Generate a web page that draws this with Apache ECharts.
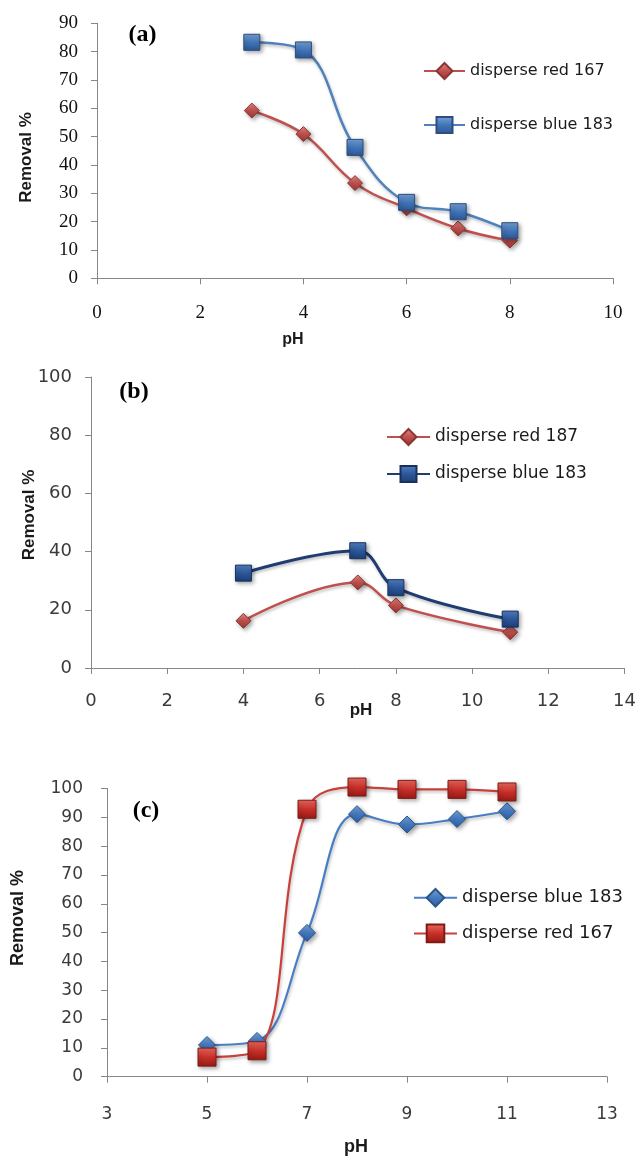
<!DOCTYPE html>
<html><head><meta charset="utf-8">
<script src="https://cdn.jsdelivr.net/npm/echarts/dist/echarts.min.js"></script>
<style>html,body{margin:0;padding:0;background:#fff}#c{width:639px;height:1169px}</style>
</head><body><div id="c"></div>
<script>
// ---- data ----
const pHA = [3, 4, 5, 6, 7, 8];
const red167A = [59.2, 50.9, 33.6, 24.7, 17.6, 13.3];
const blue183A = [83.3, 80.6, 46.2, 26.8, 23.5, 16.8];

const pHB = [4, 7, 8, 11];
const red187B = [16.2, 29.4, 21.5, 12.3];
const blue183B = [32.6, 40.3, 27.6, 16.8];

const pHC = [5, 6, 7, 8, 9, 10, 11];
const blue183C = [11.0, 12.4, 49.9, 91.1, 87.5, 89.4, 92.1];
const red167C = [6.8, 9.0, 92.8, 100.5, 99.7, 99.7, 98.8];

const xTicksC = [3, 5, 7, 9, 11, 13];

const seriesNamesA = ['disperse red 167', 'disperse blue 183'];
const seriesNamesB = ['disperse red 187', 'disperse blue 183'];
const seriesNamesC = ['disperse blue 183', 'disperse red 167'];
const panelLabels = ['(a)', '(b)', '(c)'];
const yTitle = 'Removal %';
const xTitle = 'pH';

// ---- helpers ----
const pairs = (xs, ys) => xs.map((x, i) => [x, ys[i]]);
const grad = (c0, c1, c2) => ({type: 'linear', x: 0, y: 0, x2: 0, y2: 1,
  colorStops: [{offset: 0, color: c0}, {offset: 0.5, color: c1}, {offset: 1, color: c2}]});
const axisLineStyle = {lineStyle: {color: '#878787', width: 1}};
const tickStyle = {show: true, length: 6, lineStyle: {color: '#878787', width: 1}};

function mkSeries(name, idx, data, symbol, size, lineColor, lineW, fill, border) {
  return {
    name: name, type: 'line', xAxisIndex: idx, yAxisIndex: idx, data: data,
    smooth: 0.4, clip: false, symbol: symbol, symbolSize: size,
    lineStyle: {color: lineColor, width: lineW, shadowBlur: 3, shadowColor: 'rgba(0,0,0,0.25)', shadowOffsetX: 1, shadowOffsetY: 2},
    itemStyle: {color: fill, borderColor: border, borderWidth: 1, shadowBlur: 4, shadowColor: 'rgba(0,0,0,0.35)', shadowOffsetX: 2, shadowOffsetY: 2},
    emphasis: {disabled: true}, animation: false
  };
}

const redDia = grad('#E58B87', '#C0504D', '#963633');
const blueSqA = grad('#79A3D8', '#4175B7', '#2B5797');
const blueSqB = grad('#5682C4', '#2C579B', '#1D3E75');
const redSqC = grad('#EE6A60', '#C8302A', '#971A14');
const blueDiaC = grad('#77A4DC', '#4479C0', '#2C5C9E');

const chart = echarts.init(document.getElementById('c'), null, {renderer: 'canvas'});

const option = {
  backgroundColor: '#ffffff',
  animation: false,
  grid: [
    {left: 97, top: 23.3, width: 516, height: 255},
    {left: 91, top: 377, width: 539, height: 291},
    {left: 107, top: 788.5, width: 500, height: 288.2}
  ],
  xAxis: [
    {gridIndex: 0, type: 'value', min: 0, max: 10, interval: 2, splitLine: {show: false},
      axisLine: axisLineStyle, axisTick: tickStyle,
      axisLabel: {margin: 25, fontFamily: 'Liberation Serif', fontSize: 19, color: '#111'}},
    {gridIndex: 1, type: 'value', min: 0, max: 14, interval: 2, splitLine: {show: false},
      axisLine: axisLineStyle, axisTick: tickStyle,
      axisLabel: {margin: 24, fontFamily: 'DejaVu Sans', fontSize: 18, color: '#3a3a3a'}},
    {gridIndex: 2, type: 'value', min: 3, max: 13, splitLine: {show: false},
      axisLine: axisLineStyle,
      axisTick: Object.assign({}, tickStyle, {customValues: xTicksC}),
      axisLabel: {margin: 29, fontFamily: 'DejaVu Sans', fontSize: 17, color: '#3a3a3a', customValues: xTicksC}}
  ],
  yAxis: [
    {gridIndex: 0, type: 'value', min: 0, max: 90, interval: 10, splitLine: {show: false},
      axisLine: {show: true, lineStyle: {color: '#878787', width: 1}}, axisTick: tickStyle,
      axisLabel: {margin: 19, fontFamily: 'Liberation Serif', fontSize: 19, color: '#111'}},
    {gridIndex: 1, type: 'value', min: 0, max: 100, interval: 20, splitLine: {show: false},
      axisLine: {show: true, lineStyle: {color: '#878787', width: 1}}, axisTick: tickStyle,
      axisLabel: {margin: 19, fontFamily: 'DejaVu Sans', fontSize: 18, color: '#3a3a3a'}},
    {gridIndex: 2, type: 'value', min: 0, max: 100, interval: 10, splitLine: {show: false},
      axisLine: {show: true, lineStyle: {color: '#878787', width: 1}}, axisTick: tickStyle,
      axisLabel: {margin: 24, fontFamily: 'DejaVu Sans', fontSize: 17, color: '#3a3a3a'}}
  ],
  legend: [
    {data: seriesNamesA.map(n => 'a|' + n), orient: 'vertical', left: 423, top: 62, padding: 0,
      itemWidth: 41, itemHeight: 20, itemGap: 36, selectedMode: false,
      formatter: n => n.split('|')[1],
      textStyle: {fontFamily: 'DejaVu Sans', fontSize: 16, color: '#1a1a1a'}},
    {data: seriesNamesB.map(n => 'b|' + n), orient: 'vertical', left: 386, top: 428, padding: 0,
      itemWidth: 43, itemHeight: 20, itemGap: 19, selectedMode: false,
      formatter: n => n.split('|')[1],
      textStyle: {fontFamily: 'DejaVu Sans', fontSize: 17, color: '#1a1a1a'}},
    {data: seriesNamesC.map(n => 'c|' + n), orient: 'vertical', left: 413, top: 888, padding: 0,
      itemWidth: 43, itemHeight: 22, itemGap: 16, selectedMode: false,
      formatter: n => n.split('|')[1],
      textStyle: {fontFamily: 'DejaVu Sans', fontSize: 18, color: '#1a1a1a'}}
  ],
  graphic: [
    {type: 'text', x: 142.5, y: 35, style: {text: panelLabels[0], fontFamily: 'Liberation Serif', fontWeight: 'bold', fontSize: 24, fill: '#000', align: 'center', verticalAlign: 'middle'}},
    {type: 'text', x: 134, y: 392, style: {text: panelLabels[1], fontFamily: 'Liberation Serif', fontWeight: 'bold', fontSize: 24, fill: '#000', align: 'center', verticalAlign: 'middle'}},
    {type: 'text', x: 146, y: 811, style: {text: panelLabels[2], fontFamily: 'Liberation Serif', fontWeight: 'bold', fontSize: 24, fill: '#000', align: 'center', verticalAlign: 'middle'}},
    {type: 'text', x: 26, y: 157.5, rotation: Math.PI / 2, style: {text: yTitle, fontFamily: 'Liberation Sans', fontWeight: 'bold', fontSize: 17, fill: '#1a1a1a', align: 'center', verticalAlign: 'middle'}},
    {type: 'text', x: 29.5, y: 515, rotation: Math.PI / 2, style: {text: yTitle, fontFamily: 'Liberation Sans', fontWeight: 'bold', fontSize: 17, fill: '#1a1a1a', align: 'center', verticalAlign: 'middle'}},
    {type: 'text', x: 18.5, y: 918, rotation: Math.PI / 2, style: {text: yTitle, fontFamily: 'Liberation Sans', fontWeight: 'bold', fontSize: 18, fill: '#1a1a1a', align: 'center', verticalAlign: 'middle'}},
    {type: 'text', x: 293, y: 340, style: {text: xTitle, fontFamily: 'Liberation Sans', fontWeight: 'bold', fontSize: 16, fill: '#1a1a1a', align: 'center', verticalAlign: 'middle'}},
    {type: 'text', x: 361, y: 710, style: {text: xTitle, fontFamily: 'Liberation Sans', fontWeight: 'bold', fontSize: 17, fill: '#1a1a1a', align: 'center', verticalAlign: 'middle'}},
    {type: 'text', x: 356, y: 1147, style: {text: xTitle, fontFamily: 'Liberation Sans', fontWeight: 'bold', fontSize: 18, fill: '#1a1a1a', align: 'center', verticalAlign: 'middle'}}
  ],
  series: [
    mkSeries('a|' + seriesNamesA[0], 0, pairs(pHA, red167A), 'diamond', 15, '#C0504D', 2.5, redDia, '#8C3634'),
    mkSeries('a|' + seriesNamesA[1], 0, pairs(pHA, blue183A), 'rect', 16, '#4F81BD', 2.5, blueSqA, '#2C4D7D'),
    mkSeries('b|' + seriesNamesB[0], 1, pairs(pHB, red187B), 'diamond', 15, '#C0504D', 2.5, redDia, '#8C3634'),
    mkSeries('b|' + seriesNamesB[1], 1, pairs(pHB, blue183B), 'rect', 16, '#1F3C73', 3, blueSqB, '#17305E'),
    mkSeries('c|' + seriesNamesC[0], 2, pairs(pHC, blue183C), 'diamond', 17, '#4A7EC4', 2.2, blueDiaC, '#2C5588'),
    mkSeries('c|' + seriesNamesC[1], 2, pairs(pHC, red167C), 'rect', 18, '#C8403A', 2.2, redSqC, '#7F1A15')
  ]
};
chart.setOption(option);
</script>
</body></html>
